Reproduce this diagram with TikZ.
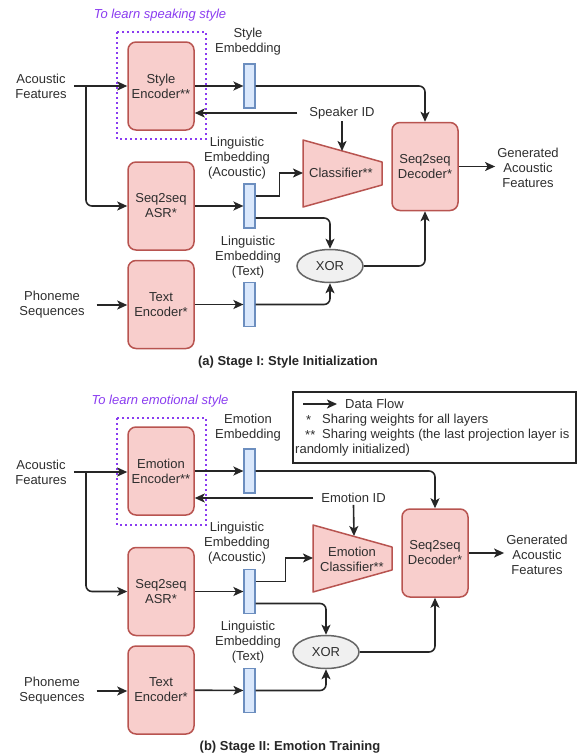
\documentclass[tikz,border=0pt]{standalone}
\usepackage{fontspec}
\setmainfont{Liberation Sans}
\usepackage{tikz}
\usetikzlibrary{arrows.meta,shapes.geometric,positioning,calc}

\definecolor{encFill}{HTML}{F8CECC}
\definecolor{encLine}{HTML}{B85450}
\definecolor{embFill}{HTML}{DAE8FC}
\definecolor{embLine}{HTML}{6C8EBF}
\definecolor{xorFill}{HTML}{F0F0F0}
\definecolor{xorLine}{HTML}{666666}
\definecolor{tipCol}{HTML}{8A3CF0}
\definecolor{lineCol}{HTML}{262626}
\definecolor{textCol}{HTML}{2E2E2E}
\newcommand{\figfont}{\fontsize{13}{15}\selectfont}

\begin{document}
\begin{tikzpicture}[x=1pt, y=-1pt,
    every node/.style={font=\figfont, text=textCol},
    enc/.style={draw=encLine, fill=encFill, line width=1.5pt, rounded corners=8pt, minimum width=66pt, minimum height=88pt, align=center, inner sep=1pt},
    emb/.style={draw=embLine, fill=embFill, line width=1.2pt, minimum width=11pt, minimum height=44pt, inner sep=0pt},
    xorn/.style={draw=xorLine, fill=xorFill, ellipse, line width=1.5pt, minimum width=66pt, minimum height=33pt, inner sep=0pt},
    cls/.style={draw=encLine, fill=encFill, line width=1.5pt, line join=round},
    lbl/.style={align=center, inner sep=2pt},
    tip/.style={font=\figfont\itshape, text=tipCol},
    grp/.style={draw=tipCol, dash pattern=on 1.6pt off 3.4pt, line width=1.5pt},
    arr/.style={-{Stealth[length=10pt, width=9pt, inset=2.5pt]}, line width=1.6pt, draw=lineCol},
    capt/.style={font=\figfont\bfseries, text=black!85},
    lgd/.style={anchor=west, inner sep=0pt}
]
\useasboundingbox (0,0) rectangle (578,755);

% (a) Stage I
\node[tip] (tipA) at (160,15) {To learn speaking style};
\draw[grp] (117,32) rectangle (206,139);
\node[enc] (styEnc) at (161,86) {Style\\Encoder**};
\node[lbl] (acA) at (41,86) {Acoustic\\Features};
\coordinate (splA) at (86,86);
\node[emb] (styEmb) at (249.5,86) {};
\node[lbl] (styLbl) at (248,42) {Style\\Embedding};
\node[lbl, inner xsep=12pt] (spkA) at (342,113) {Speaker ID};
\draw[cls] (303,140) -- (382,162) -- (382,185) -- (303,207) -- cycle;
\node[lbl] (clsA) at (341,173) {Classifier**};
\coordinate (clsAin) at (303,173);
\coordinate (clsAtop) at (342,151);
\node[enc] (decA) at (425,166.5) {Seq2seq\\Decoder*};
\node[lbl] (genA) at (528,168) {Generated\\Acoustic\\Features};
\node[lbl] (lacLblA) at (237,158) {Linguistic\\Embedding\\(Acoustic)};
\node[enc] (asrA) at (161,206) {Seq2seq\\ASR*};
\node[emb] (lacA) at (249.5,206) {};
\node[xorn] (xorA) at (330,266) {XOR};
\node[enc] (txtA) at (161,304.5) {Text\\Encoder*};
\node[lbl] (phA) at (52,305) {Phoneme\\Sequences};
\node[emb] (lteA) at (249.5,304.5) {};
\node[lbl] (lteLblA) at (248,257) {Linguistic\\Embedding\\(Text)};
\node[capt] (capA) at (288,362) {(a) Stage I: Style Initialization};

\draw[arr] ([xshift=5pt]acA.east) -- (acA.east -| styEnc.west);
\draw[arr, rounded corners=6pt] (splA) |- (asrA.west);
\draw[arr] (styEnc) -- (styEmb);
\draw[arr, rounded corners=6pt] (styEmb.east) -| (decA.north);
\draw[arr] (spkA.west) -- (spkA.west -| styEnc.east);
\draw[arr] (spkA.south) -- (clsAtop);
\draw[arr] (decA.east) -- (decA.east -| genA.west);
\draw[arr] (asrA) -- (lacA);
\draw[arr] ([yshift=10pt]lacA.east) -- ++(24,0) |- (clsAin);
\draw[arr, rounded corners=6pt] ([yshift=-12pt]lacA.east) -| (xorA.north);
\draw[arr, rounded corners=6pt] (xorA.east) -| (decA.south);
\draw[arr] ([xshift=10pt]phA.east) -- (txtA.west |- phA.east);
\draw[arr] (txtA) -- (lteA);
\draw[arr, rounded corners=6pt] (lteA.east) -| (xorA.south);

% (b) Stage II
\node[tip] (tipB) at (160,401) {To learn emotional style};
\draw[grp] (117,418) rectangle (206,525);
\node[enc] (emoEnc) at (161,471) {Emotion\\Encoder**};
\node[lbl] (acB) at (41,472) {Acoustic\\Features};
\coordinate (splB) at (86,471);
\node[emb] (emoEmb) at (249.5,471) {};
\node[lbl] (emoLbl) at (248,428) {Emotion\\Embedding};
\node[lbl, inner xsep=8pt] (emoId) at (353.5,498) {Emotion ID};
\draw[cls] (313,525) -- (392,547) -- (392,570) -- (313,592) -- cycle;
\node[lbl] (clsB) at (352,559) {Emotion\\Classifier**};
\coordinate (clsBin) at (313,558);
\coordinate (clsBtop) at (354,536);
\node[enc] (decB) at (435,553) {Seq2seq\\Decoder*};
\node[lbl] (genB) at (537,555) {Generated\\Acoustic\\Features};
\node[lbl] (lacLblB) at (237,543) {Linguistic\\Embedding\\(Acoustic)};
\node[enc] (asrB) at (161,591.5) {Seq2seq\\ASR*};
\node[emb] (lacB) at (249.5,591.5) {};
\node[xorn] (xorB) at (326,652) {XOR};
\node[enc] (txtB) at (161,690) {Text\\Encoder*};
\node[lbl] (phB) at (52,691) {Phoneme\\Sequences};
\node[emb] (lteB) at (249.5,690.5) {};
\node[lbl] (lteLblB) at (248,642) {Linguistic\\Embedding\\(Text)};
\node[capt] (capB) at (290,747) {(b) Stage II: Emotion Training};

\draw[arr] ([xshift=5pt]acB.east) -- (acB.east -| emoEnc.west);
\draw[arr, rounded corners=6pt] (splB) |- (asrB.west);
\draw[arr] (emoEnc) -- (emoEmb);
\draw[arr, rounded corners=6pt] (emoEmb.east) -| (decB.north);
\draw[arr] (emoId.west) -- (emoId.west -| emoEnc.east);
\draw[arr] (emoId.south) -- (clsBtop);
\draw[arr] (decB.east) -- (decB.east -| genB.west);
\draw[arr] (asrB) -- (lacB);
\draw[arr] ([yshift=10pt]lacB.east) -- ++(30,0) |- (clsBin);
\draw[arr, rounded corners=6pt] ([yshift=-12pt]lacB.east) -| (xorB.north);
\draw[arr, rounded corners=6pt] (xorB.east) -| (decB.south);
\draw[arr] ([xshift=10pt]phB.east) -- (txtB.west |- phB.east);
\draw[arr] (txtB) -- (lteB);
\draw[arr, rounded corners=6pt] (lteB.east) -| (xorB.south);

% legend
\node[draw=lineCol, line width=1.5pt, minimum width=283pt, minimum height=71pt, anchor=north west] (legend) at (292,391) {};
\coordinate (lgdArr) at (303,404);
\node[lgd] (lgdFlow) at (345,404) {Data Flow};
\draw[arr] (lgdArr) -- ++(34,0);
\node[lgd] (lgdS1) at (306,420) {*};
\node[lgd] (lgdT1) at (322,420) {Sharing weights for all layers};
\node[lgd] (lgdS2) at (305,435) {**};
\node[lgd] (lgdT2) at (322,435) {Sharing weights (the last projection layer is};
\node[lgd] (lgdT3) at (295,450) {randomly initialized)};
\end{tikzpicture}
\end{document}
